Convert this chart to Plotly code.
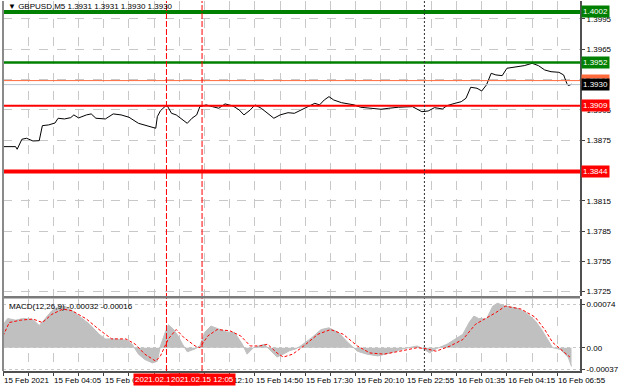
import plotly.graph_objects as go

# ---------------- data ----------------
price_bar = [0, 8, 9, 12, 15, 19, 23, 25, 29, 33, 35, 39, 43, 45, 48, 53, 56, 59, 65, 70,
             75, 80, 86, 91, 97, 98, 100, 104, 107, 110, 113, 117, 120, 123, 125, 129, 133, 137, 141, 146,
             150, 153, 157, 160, 164, 169, 172, 176, 181, 185, 189, 194, 198, 201, 204, 207, 210, 215, 219, 223,
             227, 233, 240, 245, 251, 260, 266, 270, 274, 279, 282, 287, 291, 294, 297, 301, 304, 307, 310, 313,
             317, 320, 326, 331, 336, 340, 344, 348, 353, 356, 358, 359, 361]
price_close = [1.38686, 1.38686, 1.38660, 1.38759, 1.38769, 1.38742, 1.38745, 1.38894, 1.38901, 1.38920,
               1.38967, 1.38960, 1.38973, 1.39000, 1.38970, 1.39000, 1.39010, 1.38967, 1.38960, 1.39010,
               1.39000, 1.38977, 1.38917, 1.38894, 1.38868, 1.38983, 1.39042, 1.39099, 1.39016, 1.39000,
               1.38967, 1.38917, 1.38967, 1.39000, 1.39082, 1.39099, 1.39082, 1.39066, 1.39109, 1.39089,
               1.39049, 1.39000, 1.39049, 1.39099, 1.39066, 1.39000, 1.38967, 1.39000, 1.39022, 1.39016,
               1.39049, 1.39082, 1.39115, 1.39099, 1.39148, 1.39181, 1.39148, 1.39121, 1.39109, 1.39099,
               1.39076, 1.39066, 1.39056, 1.39066, 1.39076, 1.39082, 1.39032, 1.39039, 1.39072, 1.39059,
               1.39092, 1.39115, 1.39131, 1.39165, 1.39274, 1.39264, 1.39237, 1.39297, 1.39412, 1.39396,
               1.39389, 1.39462, 1.39478, 1.39488, 1.39511, 1.39488, 1.39445, 1.39428, 1.39422, 1.39396,
               1.39313, 1.39290, 1.39304]

macd_bar = [0, 1, 3, 8, 13, 19, 23, 28, 31, 36, 40, 44, 50, 55, 61, 65, 70, 78, 82, 86,
            90, 95, 98, 100, 103, 105, 108, 111, 114, 117, 122, 125, 128, 132, 136, 142, 147, 152, 155, 159,
            166, 169, 174, 178, 182, 186, 189, 196, 202, 207, 213, 219, 225, 231, 238, 246, 254, 263, 267, 271,
            275, 282, 288, 292, 296, 299, 302, 307, 311, 314, 319, 326, 332, 338, 342, 346, 349, 354, 359, 361]
macd_main = [0.00020, 0.00043, 0.00050, 0.00047, 0.00050, 0.00048, 0.00038, 0.00053, 0.00063, 0.00071,
             0.00070, 0.00063, 0.00050, 0.00040, 0.00023, 0.00015, 0.00015, 0.00013, 0.00006, -0.00011,
             -0.00020, -0.00026, -0.00023, 0.00003, 0.00026, 0.00039, 0.00032, 0.00021, 0.00006, -0.00007,
             -0.00002, 0.00003, 0.00026, 0.00037, 0.00033, 0.00027, 0.00026, 0.00006, -0.00011, 0.00000,
             0.00006, -0.00002, -0.00016, -0.00011, -0.00005, -0.00002, 0.00003, 0.00017, 0.00031, 0.00034,
             0.00026, 0.00009, -0.00006, -0.00011, -0.00014, -0.00009, -0.00002, 0.00003, -0.00002, -0.00009,
             -0.00002, 0.00006, 0.00017, 0.00023, 0.00043, 0.00054, 0.00050, 0.00049, 0.00071, 0.00076,
             0.00071, 0.00068, 0.00060, 0.00046, 0.00031, 0.00014, 0.00000, -0.00003, -0.00017, -0.00032]

signal_bar = [0, 4, 11, 19, 25, 31, 38, 44, 53, 61, 69, 78, 84, 90, 97, 100, 105, 110, 115, 122,
              125, 130, 136, 144, 151, 157, 163, 168, 174, 178, 184, 191, 200, 208, 216, 225, 233, 242, 252, 263,
              269, 275, 284, 292, 300, 307, 313, 319, 329, 338, 344, 349, 354, 360]
macd_signal = [0.00020, 0.00043, 0.00047, 0.00049, 0.00043, 0.00057, 0.00066, 0.00063, 0.00049, 0.00031,
               0.00015, 0.00015, 0.00006, -0.00011, -0.00023, -0.00014, 0.00015, 0.00031, 0.00017, 0.00003,
               0.00000, 0.00020, 0.00031, 0.00029, 0.00020, 0.00003, 0.00003, 0.00006, -0.00009, -0.00016,
               -0.00011, 0.00003, 0.00023, 0.00031, 0.00023, 0.00003, -0.00009, -0.00011, -0.00006, 0.00000,
               -0.00002, -0.00006, 0.00003, 0.00014, 0.00040, 0.00050, 0.00060, 0.00071, 0.00066, 0.00052,
               0.00031, 0.00009, -0.00003, -0.00016]

# time labels shown under the chart (the one at 09:25 is covered by the date boxes)
time_labels = ["15 Feb 2021", "15 Feb 04:05", "15 Feb 06:45", "15 Feb 12:10",
               "15 Feb 14:50", "15 Feb 17:30", "15 Feb 20:10", "15 Feb 22:55", "16 Feb 01:35",
               "16 Feb 04:15", "16 Feb 06:55"]
time_label_bar = [0, 32, 64, 128, 160, 192, 224, 256, 288, 320, 352]

price_ticks = [1.3725, 1.3755, 1.3785, 1.3815, 1.3845, 1.3875, 1.3905, 1.3935, 1.3965, 1.3995]
price_tick_text = ["1.3725", "1.3755", "1.3785", "1.3815", "", "1.3875", "1.3905", "", "1.3965", "1.3995"]
macd_ticks = [0.00074, 0.0, -0.00037]
macd_tick_text = ["0.00074", "0.00", "-0.00037"]

# horizontal levels: (value, colour, width, label)
levels = [(1.4002, "#008000", 4, "1.4002"),
          (1.3952, "#008000", 2.5, "1.3952"),
          (1.3909, "#FF0000", 2, "1.3909"),
          (1.3844, "#FF0000", 4, "1.3844")]
ask_price = 1.3934
bid_price = 1.3930

vlines_red = [103.8, 126.4]
vline_red_text = ["2021.02.15 09:45", "2021.02.15 12:05"]
vline_black = 267.6

header = "\u25bc GBPUSD,M5 1.3931 1.3931 1.3930 1.3930"
macd_header = "MACD(12,26,9) -0.00032 -0.00016"

# ---------------- figure ----------------
FONT = "Liberation Sans"
XR = [0, 366.4]
GRID = "#C8C8C8"

fig = go.Figure()

fig.add_trace(go.Scatter(x=price_bar, y=price_close, mode="lines",
                         line=dict(color="#000000", width=1), xaxis="x", yaxis="y",
                         hoverinfo="skip", showlegend=False))
fig.add_trace(go.Scatter(x=macd_bar, y=macd_main, mode="lines", fill="tozeroy",
                         fillcolor="#C0C0C0", line=dict(color="#C0C0C0", width=1),
                         xaxis="x2", yaxis="y2", hoverinfo="skip", showlegend=False))
fig.add_trace(go.Scatter(x=signal_bar, y=macd_signal, mode="lines",
                         line=dict(color="#FF0000", width=1, dash="3px,2px"),
                         xaxis="x2", yaxis="y2", hoverinfo="skip", showlegend=False))

shapes = []
annotations = []

for val, col, w, lab in levels:
    shapes.append(dict(type="line", xref="paper", yref="y", x0=0, x1=1, y0=val, y1=val,
                       line=dict(color=col, width=w), layer="above"))
shapes.append(dict(type="line", xref="paper", yref="y", x0=0, x1=1, y0=ask_price, y1=ask_price,
                   line=dict(color="#FF6A3D", width=1), layer="above"))
shapes.append(dict(type="line", xref="paper", yref="y", x0=0, x1=1, y0=bid_price, y1=bid_price,
                   line=dict(color="#B8C4CC", width=1), layer="above"))

for xv in vlines_red:
    shapes.append(dict(type="line", xref="x", yref="paper", x0=xv, x1=xv, y0=0, y1=1,
                       line=dict(color="#FF0000", width=1, dash="6px,2px"), layer="above"))
shapes.append(dict(type="line", xref="x", yref="paper", x0=vline_black, x1=vline_black, y0=0, y1=1,
                   line=dict(color="#303030", width=1, dash="2px,2px"), layer="above"))

shapes.append(dict(type="rect", xref="paper", yref="paper", x0=0, x1=1, y0=0.1962, y1=0.2027,
                   fillcolor="#7A7A7A", line=dict(width=0), layer="above"))
shapes.append(dict(type="line", xref="paper", yref="paper", x0=0, x1=0, y0=0, y1=1,
                   line=dict(color="#8A8A8A", width=2), layer="above"))

for val, col, w, lab in levels:
    annotations.append(dict(xref="paper", yref="y", x=1, y=val, text=lab, showarrow=False,
                            xanchor="left", yanchor="middle", xshift=1,
                            font=dict(family=FONT, size=8, color="#FFFFFF"),
                            bgcolor=col, borderpad=1))
annotations.append(dict(xref="paper", yref="y", x=1, y=ask_price, text="1.3934", showarrow=False,
                        xanchor="left", yanchor="middle", xshift=1,
                        font=dict(family=FONT, size=8, color="#FFFFFF"),
                        bgcolor="#FF6A3D", borderpad=1))
annotations.append(dict(xref="paper", yref="y", x=1, y=bid_price, text="1.3930", showarrow=False,
                        xanchor="left", yanchor="middle", xshift=1,
                        font=dict(family=FONT, size=8, color="#FFFFFF"),
                        bgcolor="#000000", borderpad=1))

for xb, lab in zip(time_label_bar, time_labels):
    annotations.append(dict(xref="x2", yref="paper", x=xb, y=0, text=lab, showarrow=False,
                            xanchor="left", yanchor="top", yshift=-3, xshift=-1,
                            font=dict(family=FONT, size=8, color="#000000")))
for xv, lab in zip(vlines_red, vline_red_text):
    annotations.append(dict(xref="x2", yref="paper", x=xv, y=0, text=lab, showarrow=False,
                            xanchor="center", yanchor="top", yshift=-2,
                            font=dict(family=FONT, size=8, color="#FFFFFF"),
                            bgcolor="#FF0000", borderpad=1))

annotations.append(dict(xref="paper", yref="paper", x=0, y=1, text=header, showarrow=False,
                        xanchor="left", yanchor="top", xshift=3, yshift=1,
                        font=dict(family=FONT, size=8, color="#000000")))
annotations.append(dict(xref="paper", yref="paper", x=0, y=0.1946, text=macd_header, showarrow=False,
                        xanchor="left", yanchor="top", xshift=4, yshift=-1,
                        font=dict(family=FONT, size=8, color="#000000")))

fig.update_layout(
    width=620, height=388,
    margin=dict(l=3, r=33, t=1, b=17),
    paper_bgcolor="#FFFFFF", plot_bgcolor="#FFFFFF",
    showlegend=False,
    xaxis=dict(domain=[0, 1], range=XR, anchor="y", showticklabels=False, ticks="",
               tick0=0, dtick=16, showgrid=True, gridcolor=GRID, griddash="dash", gridwidth=1,
               zeroline=False, showline=False, fixedrange=True),
    yaxis=dict(domain=[0.2027, 1], range=[1.37207, 1.40128], side="right", anchor="x",
               tickvals=price_ticks, ticktext=price_tick_text,
               ticks="outside", ticklen=3, tickcolor="#404040",
               tickfont=dict(family=FONT, size=8, color="#000000"),
               showgrid=True, gridcolor=GRID, griddash="dash", gridwidth=1,
               zeroline=False, showline=True, linecolor="#505050", linewidth=2),
    xaxis2=dict(domain=[0, 1], range=XR, anchor="y2", showticklabels=False,
                tick0=0, dtick=16, ticks="outside", ticklen=3, tickcolor="#404040",
                showgrid=True, gridcolor=GRID, griddash="dash", gridwidth=1,
                zeroline=False, showline=True, linecolor="#505050", linewidth=2),
    yaxis2=dict(domain=[0, 0.1946], range=[-0.000398, 0.000832], side="right", anchor="x2",
                tickvals=macd_ticks, ticktext=macd_tick_text,
                ticks="outside", ticklen=3, tickcolor="#404040",
                tickfont=dict(family=FONT, size=8, color="#000000"),
                showgrid=True, gridcolor=GRID, griddash="dot", gridwidth=1,
                zeroline=False, showline=True, linecolor="#505050", linewidth=2),
    shapes=shapes,
    annotations=annotations,
)

fig.write_html("out.html")
